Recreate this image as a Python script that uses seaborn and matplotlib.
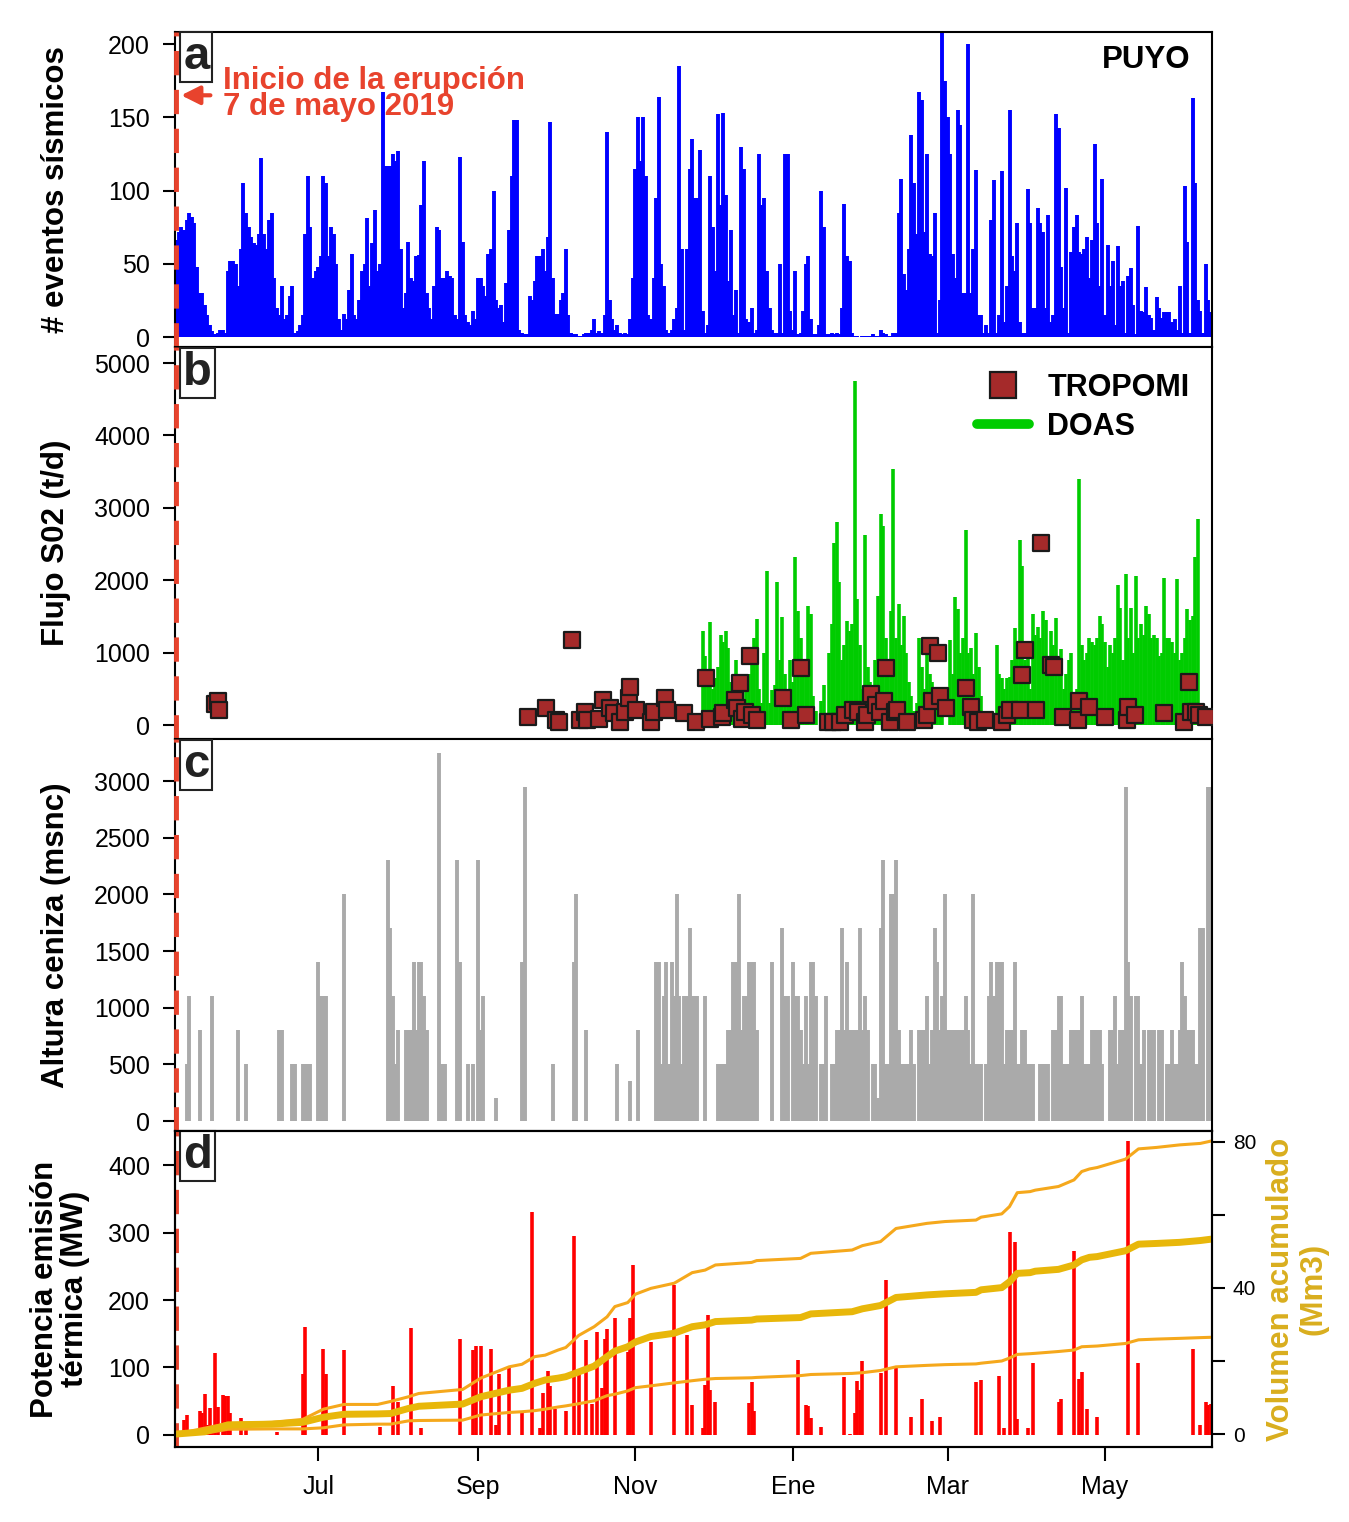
import numpy as np
import pandas as pd
import matplotlib
matplotlib.use("Agg")
import matplotlib.pyplot as plt
from matplotlib.lines import Line2D
import seaborn as sns

# dia 0 = inicio de la erupcion (7 de mayo 2019)
inicio = pd.Timestamp("2019-05-07")
dia_fin = 401.5

meses = ["2019-07-01", "2019-09-01", "2019-11-01", "2020-01-01", "2020-03-01", "2020-05-01"]
meses_etiquetas = ["Jul", "Sep", "Nov", "Ene", "Mar", "May"]

# a) numero de eventos sismicos por dia (estacion PUYO)
sismos = [
    66, 72, 75, 73, 80, 85, 82, 78, 48, 30,
    30, 22, 15, 8, 4, 2, 3, 5, 5, 3,
    45, 52, 52, 50, 35, 60, 105, 85, 75, 68,
    64, 63, 70, 122, 70, 60, 80, 85, 40, 20,
    15, 35, 12, 15, 28, 35, 3, 4, 8, 15,
    70, 110, 75, 40, 45, 48, 55, 110, 105, 55,
    75, 70, 50, 12, 5, 16, 12, 32, 57, 15,
    12, 25, 45, 50, 81, 35, 64, 87, 45, 50,
    167, 117, 117, 117, 125, 120, 127, 60, 20, 30,
    65, 40, 38, 55, 56, 90, 120, 30, 20, 12,
    35, 75, 73, 40, 40, 45, 42, 40, 15, 12,
    123, 65, 15, 10, 8, 18, 12, 40, 40, 35,
    28, 57, 60, 100, 25, 20, 22, 10, 37, 73,
    110, 148, 148, 5, 3, 2, 2, 28, 25, 38,
    55, 55, 60, 45, 68, 147, 40, 16, 16, 25,
    30, 60, 15, 3, 2, 2, 1, 1, 2, 3,
    3, 5, 12, 3, 4, 3, 15, 140, 25, 12,
    5, 8, 3, 2, 3, 2, 12, 40, 115, 150,
    120, 150, 110, 15, 12, 40, 95, 164, 50, 35,
    5, 3, 5, 12, 20, 185, 60, 5, 60, 115,
    135, 95, 95, 128, 18, 3, 8, 110, 75, 45,
    152, 90, 153, 97, 38, 73, 15, 32, 3, 130,
    115, 12, 10, 20, 3, 5, 125, 90, 95, 45,
    20, 5, 3, 3, 50, 3, 125, 125, 18, 5,
    45, 2, 3, 18, 50, 55, 12, 2, 2, 8,
    100, 75, 2, 2, 3, 2, 3, 2, 20, 91,
    55, 52, 3, 1, 1, 0, 1, 1, 1, 1,
    2, 1, 1, 5, 3, 2, 1, 1, 3, 3,
    85, 108, 43, 32, 60, 138, 105, 70, 167, 162,
    72, 125, 57, 55, 85, 3, 25, 210, 175, 150,
    125, 57, 40, 155, 145, 30, 30, 200, 30, 60,
    114, 15, 15, 3, 8, 3, 80, 107, 3, 15,
    113, 10, 35, 155, 55, 45, 78, 10, 3, 3,
    101, 78, 20, 20, 88, 78, 72, 20, 83, 10,
    15, 152, 143, 48, 20, 102, 3, 58, 75, 83,
    58, 57, 60, 68, 40, 66, 132, 78, 35, 108,
    15, 63, 35, 52, 8, 62, 35, 38, 3, 42,
    47, 22, 2, 76, 18, 17, 34, 15, 13, 5,
    27, 20, 13, 17, 17, 17, 10, 12, 5, 35,
    3, 103, 65, 3, 163, 105, 25, 18, 3, 50,
    25, 17, 15,
]

# b) flujo de SO2 (t/d): DOAS diario desde el dia 204 y TROPOMI
doas_inicio = 204
doas_flujo = [
    1300, 950, 700, 1425, 500, 650, 800, 1250, 1150, 1300,
    1065, 600, 460, 900, 650, 400, 300, 510, 700, 830,
    1200, 1470, 500, 300, 1000, 2130, 300, 485, 550, 1970,
    900, 1490, 700, 500, 900, 600, 2315, 1575, 1200, 700,
    900, 1640, 1530, 400, 200, 0, 325, 555, 0, 1000,
    1400, 2520, 2800, 1970, 900, 1100, 1435, 1300, 1400, 4745,
    1735, 1100, 500, 2625, 800, 600, 400, 900, 1780, 2915,
    2755, 1200, 900, 1575, 3540, 1200, 1670, 1100, 1505, 1000,
    600, 400, 200, 300, 1200, 800, 500, 1000, 700, 600,
    400, 300, 350, 200, 0, 0, 1180, 700, 1775, 1600,
    1000, 1200, 2695, 1000, 1065, 700, 1270, 800, 400, 0,
    0, 0, 0, 0, 1110, 700, 650, 500, 650, 670,
    900, 1340, 1000, 2560, 2200, 900, 1000, 500, 1530, 1250,
    1350, 1200, 1575, 1450, 900, 1300, 1100, 1480, 700, 1050,
    500, 700, 900, 1000, 400, 500, 3400, 1100, 900, 1000,
    1200, 1150, 1100, 1200, 1500, 1400, 1150, 800, 1100, 1000,
    1200, 1935, 1620, 900, 2085, 1200, 1620, 1000, 2060, 1200,
    1400, 1250, 1640, 1540, 1200, 1250, 1200, 950, 1000, 2025,
    1200, 1200, 1150, 1000, 2015, 900, 1000, 1200, 1600, 1450,
    1500, 2315, 2850,
]

tropomi_dia = [
    15, 16, 16.5, 136.4, 143.4, 147.3, 148.5, 153.5, 156.6, 158.5,
    159.3, 163.9, 165.5, 168.2, 169.8, 172, 174, 175.5, 176, 178.3,
    184, 185.3, 189.5, 190.3, 197, 201.3, 205.5, 206.8, 211.4, 212,
    216.4, 217.3, 218.6, 219.2, 220.5, 222.5, 223.2, 225.1, 235.2, 238.2,
    242.1, 244.1, 252.6, 254.6, 257.2, 259.2, 262.4, 264.4, 267, 267.7,
    269.4, 271.3, 272.9, 274.2, 275.3, 276.8, 278.8, 279.4, 283.4, 289.9,
    291.2, 292.1, 292.8, 295.2, 296.1, 298.4, 306.3, 308.2, 308.9, 310.9,
    313.5, 320, 322, 323.3, 327.2, 327.9, 329.2, 333.1, 335.1, 339,
    340.3, 343.6, 349.6, 350.1, 354, 359.9, 368.4, 369.1, 371.7, 382.9,
    390.7, 392.7, 393.3, 395.3, 396.6, 399.2,
]
tropomi_flujo = [
    290, 330, 210, 115, 230, 70, 45, 1180, 70, 185,
    70, 85, 345, 230, 160, 45, 185, 370, 530, 210,
    45, 185, 370, 210, 160, 45, 650, 90, 115, 160,
    350, 230, 580, 90, 185, 950, 140, 70, 370, 70,
    790, 140, 45, 45, 45, 140, 210, 185, 45, 140,
    425, 280, 185, 325, 790, 45, 185, 210, 45, 70,
    140, 1090, 325, 1000, 395, 230, 510, 255, 70, 45,
    70, 45, 140, 210, 210, 695, 1040, 210, 2510, 830,
    800, 115, 70, 325, 255, 115, 70, 255, 140, 160,
    45, 600, 185, 185, 140, 115,
]

# c) altura de la columna de ceniza por dia (msnc)
ceniza = [
    0, 0, 0, 0, 500, 1100, 0, 0, 0, 800,
    0, 0, 0, 0, 1100, 0, 0, 0, 0, 0,
    0, 0, 0, 0, 800, 0, 0, 500, 0, 0,
    0, 0, 0, 0, 0, 0, 0, 0, 0, 0,
    800, 800, 0, 0, 0, 500, 500, 0, 0, 500,
    500, 500, 500, 0, 0, 1400, 1100, 1100, 1100, 0,
    0, 0, 0, 0, 0, 2000, 0, 0, 0, 0,
    0, 0, 0, 0, 0, 0, 0, 0, 0, 0,
    0, 0, 2300, 1700, 1100, 500, 800, 0, 0, 800,
    800, 800, 1400, 800, 1400, 1400, 1100, 800, 0, 0,
    0, 0, 3250, 500, 500, 0, 0, 0, 0, 2300,
    1400, 0, 0, 500, 0, 500, 0, 2300, 800, 1100,
    0, 0, 0, 0, 200, 0, 0, 0, 0, 0,
    0, 0, 0, 0, 1400, 2950, 0, 0, 0, 0,
    0, 0, 0, 0, 0, 0, 500, 0, 0, 0,
    0, 0, 0, 0, 1400, 2000, 0, 0, 0, 800,
    0, 0, 0, 0, 0, 0, 0, 0, 0, 0,
    0, 500, 0, 0, 0, 0, 350, 0, 0, 800,
    0, 0, 0, 0, 0, 0, 1400, 1400, 500, 1100,
    1400, 500, 1400, 1100, 2000, 1100, 500, 1100, 1100, 1700,
    1100, 1100, 1100, 0, 0, 1100, 0, 0, 0, 0,
    500, 500, 500, 500, 800, 800, 1400, 1400, 2000, 800,
    1100, 1100, 1400, 1400, 1400, 800, 0, 0, 0, 0,
    0, 1400, 0, 0, 0, 1700, 1100, 1100, 0, 1400,
    1100, 1100, 800, 500, 1100, 500, 1400, 1400, 1100, 0,
    500, 500, 1100, 0, 500, 500, 800, 800, 1700, 800,
    1400, 800, 800, 800, 800, 1700, 800, 1100, 800, 0,
    500, 500, 200, 1700, 2300, 500, 500, 2000, 2000, 2300,
    800, 500, 500, 500, 500, 800, 500, 0, 800, 800,
    800, 1100, 500, 800, 1700, 1400, 800, 1100, 2000, 800,
    800, 800, 800, 800, 800, 800, 1100, 800, 500, 2000,
    500, 500, 500, 0, 500, 1100, 1400, 1100, 1400, 1400,
    1400, 500, 800, 800, 800, 1400, 500, 500, 800, 800,
    500, 500, 500, 0, 0, 500, 500, 500, 500, 0,
    800, 800, 1100, 1100, 500, 500, 500, 800, 800, 800,
    800, 1100, 500, 500, 500, 800, 800, 800, 800, 500,
    0, 0, 800, 800, 1100, 500, 800, 800, 2950, 1400,
    1100, 0, 1100, 1100, 500, 800, 0, 800, 800, 800,
    0, 800, 800, 0, 500, 500, 800, 500, 500, 800,
    1400, 1100, 800, 800, 800, 500, 500, 1700, 1700, 0,
    2950, 2950, 2950,
]

# d) potencia de emision termica (MW)
termica_dia = [
    3, 4, 9, 10, 11, 12, 13, 14, 15, 16, 18, 19, 20, 21, 25, 27, 39, 49, 50, 57,
    58, 65, 79, 84, 86, 91, 95, 110, 115, 116, 118, 122, 124, 125, 129, 134, 138, 141, 142, 144,
    145, 147, 151, 154, 156, 159, 161, 163, 165, 166, 167, 170, 175, 176, 177, 184, 193, 198, 200, 204,
    205, 206, 207, 209, 222, 223, 224, 241, 244, 245, 246, 250, 259, 261, 263, 264, 265, 266, 273, 275,
    279, 285, 289, 293, 296, 310, 312, 319, 321, 323, 325, 326, 330, 332, 342, 343, 348, 350, 351, 353,
    357, 369, 373, 394, 397, 399, 400, 401,
]
termica_mw = [
    22, 30, 35, 32, 60, 15, 40, 12, 122, 42, 59, 58, 58, 33, 25, 7, 5, 91, 160, 128,
    91, 126, 12, 73, 49, 158, 11, 142, 126, 132, 132, 127, 15, 90, 99, 32, 331, 10, 62, 95,
    73, 38, 35, 295, 90, 140, 46, 153, 69, 142, 157, 173, 123, 174, 252, 138, 222, 148, 44, 10,
    74, 178, 67, 49, 47, 78, 36, 111, 45, 43, 25, 12, 86, 2, 32, 80, 67, 110, 92, 230,
    100, 27, 53, 20, 26, 78, 81, 88, 10, 301, 286, 23, 10, 107, 49, 54, 272, 83, 94, 38,
    26, 435, 106, 128, 15, 49, 44, 46,
]

# volumen acumulado (Mm3): estimacion alta, media y baja
vol_dia = [
    0, 11, 20, 37, 49, 57, 65, 78, 83, 90, 94, 111, 118, 129, 134, 139, 143, 148, 151, 156,
    162, 167, 170, 175, 178, 184, 193, 200, 205, 209, 223, 225, 242, 246, 262, 266, 273, 276, 279, 291,
    298, 310, 312, 320, 323, 326, 331, 333, 342, 348, 351, 354, 357, 368, 373, 380, 389, 397, 401.5,
]
vol_alto = [
    0, 1.6, 2.9, 3.2, 4.0, 6.8, 8.1, 8.1, 8.9, 10.2, 11.1, 12.2, 15.3, 18.4, 19.1, 21.2, 21.6, 23.0, 23.7, 27.0,
    29.4, 32.1, 34.9, 36.0, 38.3, 39.9, 41.3, 44.2, 44.9, 46.3, 47.0, 47.5, 48.1, 49.5, 50.4, 51.6, 52.7, 54.5, 56.3, 57.7,
    58.2, 58.6, 59.4, 60.3, 62.3, 66.1, 66.4, 66.8, 67.8, 69.6, 71.9, 72.6, 73.0, 75.3, 78.1, 78.5, 79.2, 79.6, 80.3,
]
vol_medio = [
    0, 0.6, 2.5, 2.7, 3.2, 4.6, 5.4, 5.5, 5.6, 7.0, 7.6, 8.2, 10.2, 12.0, 12.5, 13.9, 14.8, 15.3, 15.7, 17.0,
    18.6, 21.2, 22.7, 23.9, 25.2, 26.7, 27.6, 29.4, 29.9, 30.8, 31.2, 31.5, 31.9, 32.9, 33.5, 34.3, 35.2, 36.3, 37.4, 38.1,
    38.4, 38.8, 39.5, 40.1, 41.7, 44.0, 44.2, 44.6, 45.1, 46.3, 47.7, 48.4, 48.6, 50.2, 52.0, 52.2, 52.5, 53.0, 53.4,
]
vol_bajo = [
    0, 0.2, 1.3, 1.4, 1.4, 1.7, 2.5, 2.7, 2.7, 3.6, 3.7, 3.8, 5.2, 5.9, 6.1, 6.4, 6.8, 7.4, 7.7, 8.3,
    9.1, 10.5, 10.9, 11.8, 12.7, 13.2, 14.0, 14.6, 15.0, 15.2, 15.4, 15.5, 16.0, 16.3, 16.6, 16.8, 17.4, 17.9, 18.4, 18.8,
    19.0, 19.2, 19.4, 20.0, 20.8, 21.8, 22.0, 22.1, 22.6, 23.0, 23.9, 24.0, 24.1, 24.8, 25.8, 26.0, 26.2, 26.4, 26.5,
]

# colores
rojo_inicio = "#E8432D"
azul = "#0000FF"
verde = "#00CC00"
gris = "#AAAAAA"
rojo = "#FF0000"
naranja = "#F5A81C"
dorado = "#E8B70A"
dorado_texto = "#D9AE1E"

sns.set_style("ticks")
plt.rcParams["font.family"] = ["Liberation Sans", "DejaVu Sans"]
plt.rcParams["axes.linewidth"] = 1.5
for k in ["text.color", "axes.labelcolor", "xtick.color", "ytick.color", "axes.edgecolor"]:
    plt.rcParams[k] = "black"

fig = plt.figure(figsize=(13.49, 15.22), dpi=100)
W, H = 1349.0, 1522.0
x0, x1 = 175, 1212
def rect(top, bottom):
    return [x0 / W, 1 - bottom / H, (x1 - x0) / W, (bottom - top) / H]

ax_a = fig.add_axes(rect(32, 347))
ax_b = fig.add_axes(rect(347, 739), sharex=ax_a)
ax_c = fig.add_axes(rect(739, 1131), sharex=ax_a)
ax_d = fig.add_axes(rect(1131, 1447), sharex=ax_a)

# a) sismicidad
d_s = np.arange(len(sismos))
s = np.array(sismos)
ax_a.vlines(d_s[s > 0], 0, s[s > 0], color=azul, lw=2.8)
ax_a.set_ylim(-6.8, 208.2)
ax_a.set_yticks([0, 50, 100, 150, 200])
ax_a.set_ylabel("# eventos sísmicos")
ax_a.text(0.979, 0.911, "PUYO", transform=ax_a.transAxes, ha="right", va="center",
          fontsize=22.5, fontweight="bold")
ax_a.annotate("", xy=(0.8, 165), xytext=(14.3, 165),
              arrowprops=dict(arrowstyle="-|>", color=rojo_inicio, lw=3, mutation_scale=28))
ax_a.text(18.0, 166, "Inicio de la erupción\n7 de mayo 2019", color=rojo_inicio, fontsize=22.5,
          fontweight="bold", ha="left", va="center", linespacing=0.85)

# b) SO2
d_doas = np.arange(doas_inicio, doas_inicio + len(doas_flujo))
f = np.array(doas_flujo)
ax_b.vlines(d_doas[f > 0], 0, f[f > 0], color=verde, lw=2.6)
sns.scatterplot(x=tropomi_dia, y=tropomi_flujo, marker="s", s=120, color="#A52A2A",
                edgecolor="#1a1a1a", linewidth=1.6, ax=ax_b, zorder=3, legend=False)
ax_b.set_ylim(-193, 5221)
ax_b.set_yticks([0, 1000, 2000, 3000, 4000, 5000])
ax_b.set_ylabel("Flujo S02 (t/d)")
handles = [Line2D([], [], marker="s", ls="none", mfc="#A52A2A", mec="#1a1a1a", mew=1.6, ms=19),
           Line2D([], [], color=verde, lw=7, solid_capstyle="round")]
ax_b.legend(handles, ["TROPOMI", "DOAS"], loc="upper right", bbox_to_anchor=(0.99, 0.965),
            frameon=False, prop={"weight": "bold", "size": 22}, handlelength=1.7,
            handletextpad=0.6, labelspacing=0.3, borderaxespad=0)

# c) ceniza
d_c = np.arange(len(ceniza))
c = np.array(ceniza)
ax_c.vlines(d_c[c > 0], 0, c[c > 0], color=gris, lw=2.8)
ax_c.set_ylim(-88, 3371)
ax_c.set_yticks([0, 500, 1000, 1500, 2000, 2500, 3000])
ax_c.set_ylabel("Altura ceniza (msnc)")

# d) potencia termica y volumen acumulado
ax_d.vlines(termica_dia, 0, termica_mw, color=rojo, lw=2.6)
ax_d.set_ylim(-17.8, 450.4)
ax_d.set_yticks([0, 100, 200, 300, 400])
ax_d.set_ylabel("Potencia emisión\ntérmica (MW)", linespacing=1.0)

ax_v = ax_d.twinx()
sns.lineplot(x=vol_dia, y=vol_alto, ax=ax_v, color=naranja, lw=2.2)
sns.lineplot(x=vol_dia, y=vol_bajo, ax=ax_v, color=naranja, lw=2.2)
sns.lineplot(x=vol_dia, y=vol_medio, ax=ax_v, color=dorado, lw=5)
ax_v.set_ylim(-3.56, 83)
ax_v.set_yticks([0, 20, 40, 60, 80])
ax_v.set_yticklabels(["0", "", "40", "", "80"])
ax_v.tick_params(axis="y", direction="out", length=9, width=1.5, labelsize=15, pad=6)
ax_v.set_ylabel("Volumen acumulado\n(Mm3)", color=dorado_texto, fontsize=22.5,
                fontweight="bold", rotation=90, linespacing=1.1)
ax_v.yaxis.set_label_coords(1.052, 0.5)
ax_v.yaxis.label.set_va("top")

# ejes comunes
ticks_x = [(pd.Timestamp(m) - inicio).days for m in meses]
ax_d.set_xlim(-0.5, dia_fin)
ax_d.set_xticks(ticks_x)
ax_d.set_xticklabels(meses_etiquetas)
ax_d.tick_params(axis="x", direction="out", length=10, width=1.5, labelsize=18, pad=10)

for ax, letra in zip([ax_a, ax_b, ax_c, ax_d], "abcd"):
    for sp in ax.spines.values():
        sp.set_visible(True)
        sp.set_linewidth(1.5)
        sp.set_color("black")
    ax.tick_params(axis="y", direction="out", length=9, width=1.5, labelsize=18, pad=9)
    ax.yaxis.label.set_fontsize(22.5)
    ax.yaxis.label.set_fontweight("bold")
    ax.yaxis.set_label_coords(-0.1, 0.5)
    ax.axvline(0, color=rojo_inicio, lw=3.5, ls=(0, (5, 3)), zorder=6, clip_on=False)
    ax.text(0.008, 0.99, letra, transform=ax.transAxes, ha="left", va="top", fontsize=34,
            fontweight="bold", color="#222222", zorder=7,
            bbox=dict(boxstyle="square,pad=0.06", fc="white", ec="#222222", lw=1.5))
    if ax is not ax_d:
        ax.tick_params(axis="x", bottom=False, labelbottom=False)

ax_d.yaxis.set_label_coords(-0.082, 0.5)

fig.savefig("out.png", dpi=100)
